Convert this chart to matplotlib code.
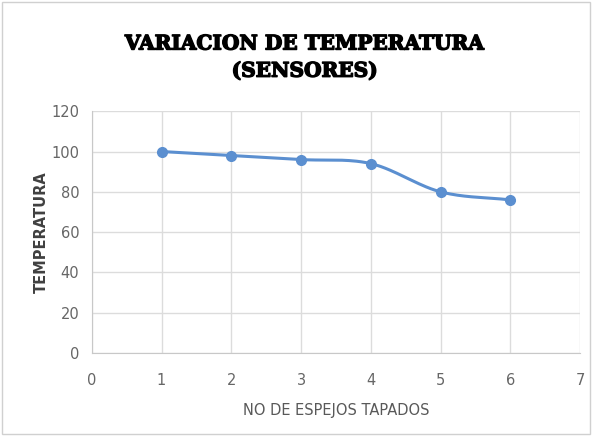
import numpy as np
import matplotlib
matplotlib.use("Agg")
import matplotlib.pyplot as plt
import matplotlib.patheffects as pe
from matplotlib.patches import Rectangle

# Datos: temperatura según número de espejos tapados
espejos = [1, 2, 3, 4, 5, 6]
temperatura = [100, 98, 96, 94, 80, 76]

xticks = [0, 1, 2, 3, 4, 5, 6, 7]
yticks = [0, 20, 40, 60, 80, 100, 120]


# Curva suavizada tipo Excel (Catmull-Rom)
def suavizar(x, y, n=30):
    x = np.asarray(x, float)
    y = np.asarray(y, float)
    px = np.concatenate([[2 * x[0] - x[1]], x, [2 * x[-1] - x[-2]]])
    py = np.concatenate([[2 * y[0] - y[1]], y, [2 * y[-1] - y[-2]]])
    xs, ys = [], []
    t = np.linspace(0, 1, n)
    for i in range(1, len(px) - 2):
        for p, out in ((px, xs), (py, ys)):
            p0, p1, p2, p3 = p[i - 1], p[i], p[i + 1], p[i + 2]
            c1 = p1 + (p2 - p0) / 6
            c2 = p2 - (p3 - p1) / 6
            out.extend((1 - t) ** 3 * p1 + 3 * (1 - t) ** 2 * t * c1
                       + 3 * (1 - t) * t ** 2 * c2 + t ** 3 * p2)
    return np.array(xs), np.array(ys)


fig = plt.figure(figsize=(5.92, 4.36), dpi=100)
ax = fig.add_axes([0.155, 0.19, 0.825, 0.555])

azul = "#5B8FD0"
sx, sy = suavizar(espejos, temperatura)
ax.plot(sx, sy, color=azul, lw=2.2, zorder=3)
ax.plot(espejos, temperatura, "o", color=azul, ms=7, zorder=4)

ax.set_xlim(0, 7)
ax.set_ylim(0, 120)
ax.set_xticks(xticks)
ax.set_yticks(yticks)
ax.grid(True, color="#DCDCDC", lw=1)
ax.set_axisbelow(True)
for lado in ["top", "right"]:
    ax.spines[lado].set_visible(False)
for lado in ["left", "bottom"]:
    ax.spines[lado].set_color("#C8C8C8")
ax.tick_params(length=0, labelsize=10.5, colors="#666666")
ax.tick_params(axis="x", pad=14)
ax.tick_params(axis="y", pad=9)
for lab in ax.get_xticklabels() + ax.get_yticklabels():
    lab.set_family(["Liberation Sans Narrow", "DejaVu Sans"])

ax.set_xlabel("NO DE ESPEJOS TAPADOS", fontsize=10.5, color="#595959",
              family=["Liberation Sans Narrow", "DejaVu Sans"], labelpad=11)
ax.set_ylabel("TEMPERATURA", fontsize=10.5, color="#404040", fontweight="bold",
              family="DejaVu Sans")
ax.yaxis.set_label_coords(-0.088, 0.5)

titulo = fig.text(0.515, 0.869, "VARIACION DE TEMPERATURA\n(SENSORES)", ha="center",
                  va="center", fontsize=14.5, fontweight="heavy", family="DejaVu Serif",
                  linespacing=1.45, color="black")
titulo.set_path_effects([pe.withStroke(linewidth=1.0, foreground="black")])

fig.patches.append(Rectangle((0.004, 0.004), 0.992, 0.992, transform=fig.transFigure,
                             fill=False, edgecolor="#D0D0D0", lw=1))

fig.savefig("out.png", dpi=100)
